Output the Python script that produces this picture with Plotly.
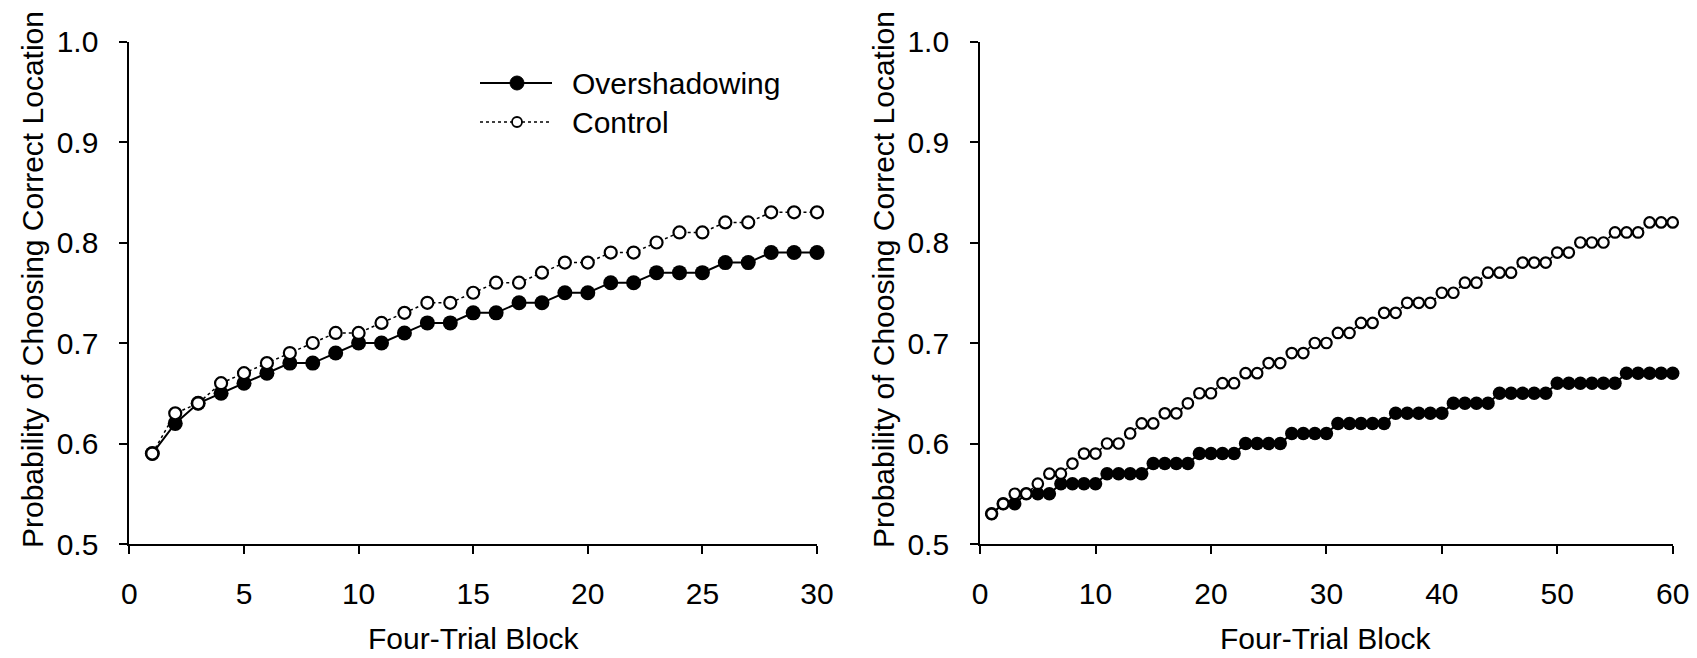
import plotly.graph_objects as go

W, H = 1697, 658

# ---------------- data ----------------
blocks_a = list(range(1, 31))
over_a = [0.59, 0.62, 0.64, 0.65, 0.66, 0.67, 0.68, 0.68, 0.69, 0.70,
          0.70, 0.71, 0.72, 0.72, 0.73, 0.73, 0.74, 0.74, 0.75, 0.75,
          0.76, 0.76, 0.77, 0.77, 0.77, 0.78, 0.78, 0.79, 0.79, 0.79]
ctrl_a = [0.59, 0.63, 0.64, 0.66, 0.67, 0.68, 0.69, 0.70, 0.71, 0.71,
          0.72, 0.73, 0.74, 0.74, 0.75, 0.76, 0.76, 0.77, 0.78, 0.78,
          0.79, 0.79, 0.80, 0.81, 0.81, 0.82, 0.82, 0.83, 0.83, 0.83]

blocks_b = list(range(1, 61))
over_b = [0.53, 0.54, 0.54, 0.55, 0.55, 0.55, 0.56, 0.56, 0.56, 0.56,
          0.57, 0.57, 0.57, 0.57, 0.58, 0.58, 0.58, 0.58, 0.59, 0.59,
          0.59, 0.59, 0.60, 0.60, 0.60, 0.60, 0.61, 0.61, 0.61, 0.61,
          0.62, 0.62, 0.62, 0.62, 0.62, 0.63, 0.63, 0.63, 0.63, 0.63,
          0.64, 0.64, 0.64, 0.64, 0.65, 0.65, 0.65, 0.65, 0.65, 0.66,
          0.66, 0.66, 0.66, 0.66, 0.66, 0.67, 0.67, 0.67, 0.67, 0.67]
ctrl_b = [0.53, 0.54, 0.55, 0.55, 0.56, 0.57, 0.57, 0.58, 0.59, 0.59,
          0.60, 0.60, 0.61, 0.62, 0.62, 0.63, 0.63, 0.64, 0.65, 0.65,
          0.66, 0.66, 0.67, 0.67, 0.68, 0.68, 0.69, 0.69, 0.70, 0.70,
          0.71, 0.71, 0.72, 0.72, 0.73, 0.73, 0.74, 0.74, 0.74, 0.75,
          0.75, 0.76, 0.76, 0.77, 0.77, 0.77, 0.78, 0.78, 0.78, 0.79,
          0.79, 0.80, 0.80, 0.80, 0.81, 0.81, 0.81, 0.82, 0.82, 0.82]

xticks_a = [0, 5, 10, 15, 20, 25, 30]
xticks_b = [0, 10, 20, 30, 40, 50, 60]
yticks = [0.5, 0.6, 0.7, 0.8, 0.9, 1.0]
x_title = "Four-Trial Block"
y_title = "Probability of Choosing Correct Location"
series_names = ["Overshadowing", "Control"]

FONT = "Arial, Liberation Sans, sans-serif"
FS = 30

fig = go.Figure()

def add_pair(xs, over, ctrl, xa, ya, fsize, osize):
    fig.add_trace(go.Scatter(
        x=xs, y=over, mode="lines+markers", name=series_names[0],
        xaxis=xa, yaxis=ya, cliponaxis=False, showlegend=False,
        line=dict(color="black", width=2),
        marker=dict(symbol="circle", size=fsize, color="black",
                    line=dict(color="black", width=0))))
    fig.add_trace(go.Scatter(
        x=xs, y=ctrl, mode="lines+markers", name=series_names[1],
        xaxis=xa, yaxis=ya, cliponaxis=False, showlegend=False,
        line=dict(color="black", width=1.5, dash="dot"),
        marker=dict(symbol="circle", size=osize, color="white",
                    line=dict(color="black", width=2.2))))

add_pair(blocks_a, over_a, ctrl_a, "x", "y", 15, 12)
add_pair(blocks_b, over_b, ctrl_b, "x2", "y2", 13.5, 10.5)

def px_x(p):
    return p / W

def px_y(p):
    return 1 - p / H

ydom = [px_y(544), px_y(41.5)]
xdom_a = [px_x(129.4), px_x(817)]
xdom_b = [px_x(980.1), px_x(1672.7)]

common_x = dict(showline=True, linecolor="black", linewidth=2,
                ticks="outside", ticklen=8, tickwidth=1.5, tickcolor="black",
                showgrid=False, zeroline=False, automargin=False,
                tickfont=dict(family=FONT, size=FS, color="black"),
                ticklabelstandoff=14)
common_y = dict(showline=True, linecolor="black", linewidth=2,
                ticks="outside", ticklen=8, tickwidth=1.5, tickcolor="black",
                showgrid=False, zeroline=False, range=[0.5, 1.0], automargin=False,
                tickvals=yticks, tickformat=".1f", domain=ydom,
                tickfont=dict(family=FONT, size=FS, color="black"),
                ticklabelstandoff=15)

fig.update_layout(
    width=W, height=H,
    margin=dict(l=0, r=0, t=0, b=0, pad=0, autoexpand=False),
    paper_bgcolor="white", plot_bgcolor="white",
    showlegend=False,
    xaxis=dict(domain=xdom_a, range=[0, 30], tickvals=xticks_a, anchor="y", **common_x),
    yaxis=dict(anchor="x", **common_y),
    xaxis2=dict(domain=xdom_b, range=[0, 60], tickvals=xticks_b, anchor="y2", **common_x),
    yaxis2=dict(anchor="x2", **common_y),
)

ann = []
for cx in [474, 1326]:
    ann.append(dict(text=x_title, x=px_x(cx), y=px_y(638), xref="paper", yref="paper",
                    xanchor="center", yanchor="middle", showarrow=False,
                    font=dict(family=FONT, size=FS, color="black")))
for cx in [33, 884]:
    ann.append(dict(text=y_title, x=px_x(cx), y=px_y(280), xref="paper", yref="paper",
                    xanchor="center", yanchor="middle", showarrow=False, textangle=-90,
                    font=dict(family=FONT, size=FS, color="black")))

# legend (left panel)
leg_rows = [83, 122]
for name, yy in zip(series_names, leg_rows):
    ann.append(dict(text=name, x=px_x(570), y=px_y(yy), xref="paper", yref="paper",
                    xanchor="left", yanchor="middle", showarrow=False,
                    font=dict(family=FONT, size=FS, color="black")))
fig.update_layout(annotations=ann)

shapes = [
    dict(type="line", xref="paper", yref="paper", x0=px_x(480), x1=px_x(552),
         y0=px_y(leg_rows[0]), y1=px_y(leg_rows[0]), line=dict(color="black", width=2)),
    dict(type="circle", xref="paper", yref="paper", xsizemode="pixel", ysizemode="pixel",
         xanchor=px_x(517), yanchor=px_y(leg_rows[0]), x0=-7, x1=7, y0=-7, y1=7,
         fillcolor="black", line=dict(color="black", width=1)),
    dict(type="line", xref="paper", yref="paper", x0=px_x(480), x1=px_x(552),
         y0=px_y(leg_rows[1]), y1=px_y(leg_rows[1]), line=dict(color="black", width=1.5, dash="dot")),
    dict(type="circle", xref="paper", yref="paper", xsizemode="pixel", ysizemode="pixel",
         xanchor=px_x(517), yanchor=px_y(leg_rows[1]), x0=-5, x1=5, y0=-5, y1=5,
         fillcolor="white", line=dict(color="black", width=1.8)),
]
fig.update_layout(shapes=shapes)

fig.write_html("out.html")
